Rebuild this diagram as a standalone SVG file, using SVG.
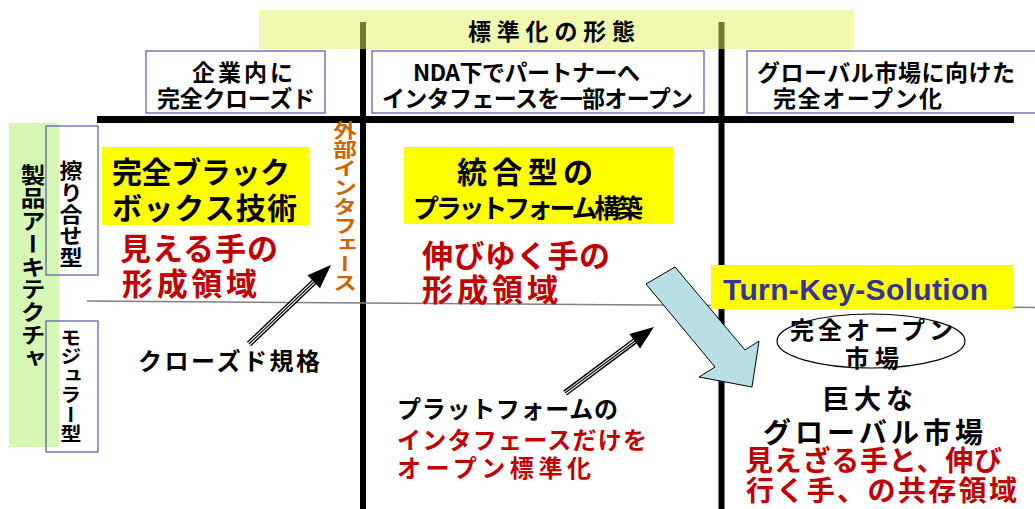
<svg xmlns="http://www.w3.org/2000/svg" width="1035" height="509" viewBox="0 0 1035 509">
<style>
text{font-family:"Noto Sans CJK JP","Noto Sans CJK SC",sans-serif;font-weight:bold;fill:#000}
.h{font-size:23px}
.red{fill:#C00000}
.big{font-size:30px}
.mid{font-size:24px}
.vert{writing-mode:vertical-rl}
.hbox{fill:#fff;stroke:#5656AE;stroke-width:1.2}
.lbox{fill:none;stroke:#5656AE;stroke-width:1.2}
.yel{fill:#FFFF00}
.axis{stroke:#000;fill:none}
</style>
<defs>
<g id="head"><polygon points="0,0 -24,-9 -24,9" fill="#000"/></g>
</defs>
<rect width="1035" height="509" fill="#fff"/>

<g id="grid">
<line class="axis" x1="97" y1="119.5" x2="1014" y2="119.5" stroke-width="7"/>
<line class="axis" x1="363" y1="22" x2="363" y2="509" stroke-width="6"/>
<line class="axis" x1="721.5" y1="22" x2="721.5" y2="509" stroke-width="6"/>
<line x1="87" y1="301" x2="1035" y2="307.5" stroke="#808080" stroke-width="1.5"/>
</g>

<g id="title">
<rect x="259" y="10" width="595" height="39" fill="#E2F460" fill-opacity="0.5"/>
<text x="468" y="40" style="font-size:23px" textLength="167">標準化の形態</text>
</g>

<g id="col1">
<rect class="hbox" x="146" y="51" width="179" height="62"/>
<text class="h" x="192" y="81" textLength="101">企業内に</text>
<text class="h" x="157" y="107" textLength="158">完全クローズド</text>
</g>
<g id="col2">
<rect class="hbox" x="372" y="51" width="332" height="62"/>
<text class="h" x="413" y="81" textLength="227">NDA下でパートナーへ</text>
<text class="h" x="382" y="107" textLength="311">インタフェースを一部オープン</text>
</g>
<g id="col3">
<rect class="hbox" x="747" y="51" width="300" height="62"/>
<text class="h" x="757" y="81" textLength="258">グローバル市場に向けた</text>
<text class="h" x="773" y="107" textLength="169">完全オープン化</text>
</g>

<g id="rowaxis">
<rect x="9" y="123" width="50" height="324" fill="#D6F8B4"/>
<text class="vert" transform="translate(33,164) scale(1.12,1)" x="0" y="0" style="font-size:22px;letter-spacing:0.8px">製品アーキテクチャ</text>
</g>
<g id="row1">
<rect class="lbox" x="46" y="126" width="52" height="149"/>
<text class="vert" transform="translate(71,160) scale(1.1,1)" x="0" y="0" style="font-size:21px;letter-spacing:0.6px">擦り合せ型</text>
</g>
<g id="row2">
<rect class="lbox" x="46" y="321" width="52" height="131"/>
<text class="vert" transform="translate(71,328) scale(1.1,1)" x="0" y="0" style="font-size:19px;letter-spacing:0.2px">モジュラー型</text>
</g>

<g id="ext-interface">
<text class="vert" transform="translate(345,121) scale(1.25,1)" x="0" y="0" style="font-size:19px;fill:#CC6600">外部インタフェース</text>
</g>

<g id="blackbox">
<rect class="yel" x="102" y="147" width="207" height="78"/>
<text class="big" x="112" y="183" textLength="178">完全ブラック</text>
<text class="big" x="112" y="219" textLength="185">ボックス技術</text>
</g>
<g id="visible-hand">
<text class="red" x="120" y="260" style="font-size:31px" textLength="158">見える手の</text>
<text class="red" x="122" y="295" style="font-size:31px" textLength="135">形成領域</text>
</g>

<g id="platform">
<rect class="yel" x="404" y="147" width="269" height="77"/>
<text class="big" x="457" y="183" textLength="136">統合型の</text>
<text x="413" y="218" style="font-size:26px" textLength="230">プラットフォーム構築</text>
</g>
<g id="growing-hand">
<text class="red" x="422" y="267" style="font-size:31px" textLength="188">伸びゆく手の</text>
<text class="red" x="422" y="301" style="font-size:31px" textLength="136">形成領域</text>
</g>

<g id="closed-std">
<text class="mid" x="138" y="370" textLength="182">クローズド規格</text>
</g>
<g id="platform-if">
<text class="mid" x="397" y="418" textLength="221">プラットフォームの</text>
<text class="mid red" x="397" y="449" textLength="250">インタフェースだけを</text>
<text class="mid red" x="397" y="477" textLength="194">オープン標準化</text>
</g>

<g id="connectors">
<g id="arrow-closed">
<line x1="249" y1="344" x2="314" y2="282" stroke="#000" stroke-width="6"/>
<line x1="248" y1="345" x2="315" y2="281" stroke="#fff" stroke-width="3.4"/>
<line x1="249" y1="344" x2="314" y2="282" stroke="#000" stroke-width="1.1"/>
<use href="#head" transform="translate(331,265) rotate(-43.9)"/>
</g>
<g id="arrow-platform">
<line x1="565" y1="393" x2="635" y2="341" stroke="#000" stroke-width="6"/>
<line x1="564" y1="394" x2="636" y2="340" stroke="#fff" stroke-width="3.4"/>
<line x1="565" y1="393" x2="635" y2="341" stroke="#000" stroke-width="1.1"/>
<use href="#head" transform="translate(654,327) rotate(-36.6)"/>
</g>
<polygon id="arrow-turnkey" points="646,284 675,267 745,350 759,341 752,387 699,377 715,367" fill="#B8DFE3" stroke="#000" stroke-width="1"/>
</g>

<g id="turnkey">
<rect class="yel" x="711" y="265" width="302" height="44"/>
<text x="723" y="300" textLength="265" style="font-family:'Liberation Sans',Arial,sans-serif;font-weight:bold;font-size:30px;fill:#333399">Turn-Key-Solution</text>
</g>
<g id="open-market">
<ellipse cx="871" cy="341" rx="94" ry="27" fill="none" stroke="#000" stroke-width="1.2"/>
<text class="mid" x="790" y="339" textLength="163">完全オープン</text>
<text class="mid" x="845" y="367" textLength="54">市場</text>
</g>
<g id="global-market">
<text x="822" y="409" style="font-size:27px" textLength="91">巨大な</text>
<text x="763" y="443" style="font-size:28px" textLength="220">グローバル市場</text>
<text class="red" x="745" y="471" style="font-size:28px" textLength="257">見えざる手と、伸び</text>
<text class="red" x="746" y="501" style="font-size:28px" textLength="271">行く手、の共存領域</text>
</g>
</svg>
